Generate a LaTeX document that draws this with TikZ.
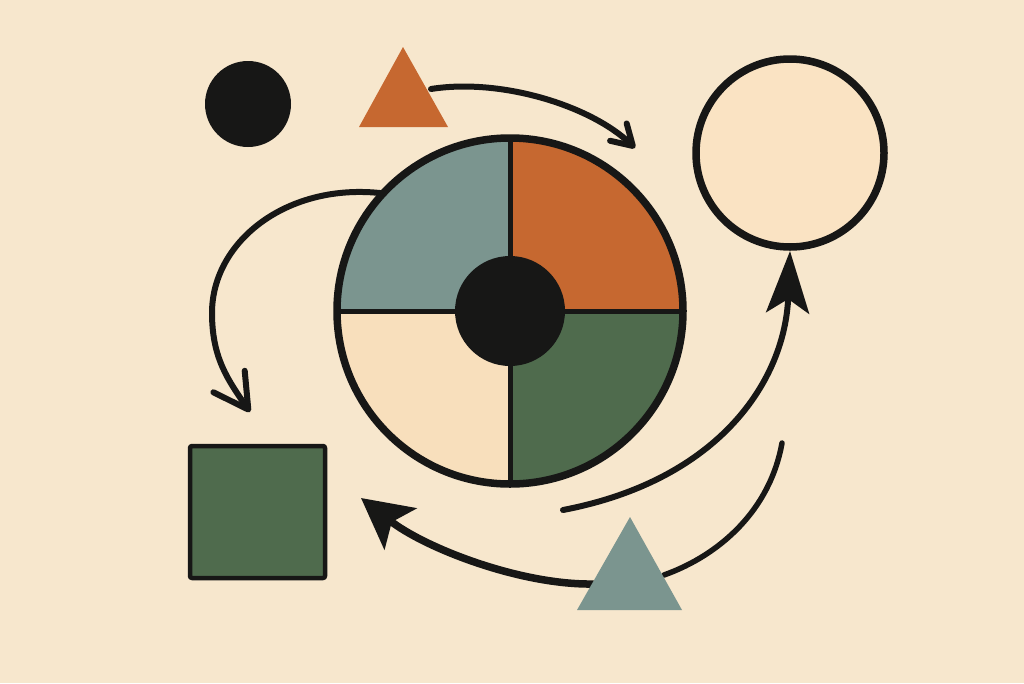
\documentclass[tikz,border=0pt]{standalone}
\usetikzlibrary{arrows.meta}
\definecolor{paper}{HTML}{F7E7CD}
\definecolor{ink}{HTML}{171716}
\definecolor{sage}{HTML}{7B958F}
\definecolor{rust}{HTML}{C66830}
\definecolor{moss}{HTML}{4F6B4D}
\definecolor{cream}{HTML}{F8DFBC}
\definecolor{shell}{HTML}{FAE3C3}
\begin{document}
\begin{tikzpicture}[x=1pt, y=-1pt, line join=round, line cap=round,
    ring/.style={draw=ink, line width=7.5pt},
    swoop/.style={draw=ink, line width=6pt},
    vtip/.style={-{Straight Barb[round,#1]}},
    stip/.style={-{Stealth[#1]}}]
      \useasboundingbox (0,0) rectangle (1024,683);
      \fill[paper] (0,0) rectangle (1024,683);

      \coordinate (hub) at (510,311);
      \coordinate (dot) at (248,104);
      \coordinate (loop) at (790,153);

      \coordinate (t1) at (403,47);
      \coordinate (t1l) at (359,127);
      \coordinate (t1r) at (448,127);
      \coordinate (t2) at (630,517);
      \coordinate (t2l) at (577,610);
      \coordinate (t2r) at (682,610);

      \coordinate (a1s) at (431,89);
      \coordinate (a1e) at (635,148);
      \coordinate (a2s) at (388,194);
      \coordinate (a2e) at (250,412);
      \coordinate (a3s) at (563,510);
      \coordinate (a3e) at (790,251);
      \coordinate (a4s) at (593,584);
      \coordinate (a4e) at (361,498);
      \coordinate (a5s) at (782,443);
      \coordinate (a5e) at (664,575);

      % arcs first, shapes sit on top of their ends
      \draw [swoop, vtip={length=20pt,width=24pt}] (a1s) .. controls (500,78) and (590,105) .. (a1e);
      \draw [swoop, vtip={length=34pt,width=38pt}] (a2s) .. controls (290,180) and (212,240) .. (212,313) .. controls (212,358) and (228,380) .. (a2e);
      \draw [swoop, stip={length=62pt,width=43pt,inset=14pt}] (a3s) .. controls (720,480) and (785,380) .. (a3e);
      \draw [swoop, line width=7.5pt, stip={length=50pt,width=52pt,inset=11pt}] (a4s) .. controls (520,585) and (425,548) .. (a4e);
      \draw [swoop, line width=5.5pt] (a5s) .. controls (770,510) and (720,555) .. (a5e);

      \fill [ink] (dot) circle [radius=43];
      \fill [rust] (t1) -- (t1r) -- (t1l) -- cycle;
      \fill [sage] (t2) -- (t2r) -- (t2l) -- cycle;
      \draw [ring, fill=shell] (loop) circle [radius=94];
      \draw [fill=moss, draw=ink, line width=4.5pt, rounded corners=2pt] (190,446) rectangle (325,578);

      \begin{scope}
        \clip (hub) circle [radius=173];
        \fill [sage] (hub) rectangle (330,130);
        \fill [rust] (hub) rectangle (690,130);
        \fill [cream] (hub) rectangle (330,490);
        \fill [moss] (hub) rectangle (690,490);
      \end{scope}
      \draw [ink, line width=5pt] (337,311) -- (683,311);
      \draw [ink, line width=5pt] (510,138) -- (510,484);
      \draw [ring] (hub) circle [radius=173];
      \fill [ink] (hub) circle [radius=55];
    \end{tikzpicture}
\end{document}
